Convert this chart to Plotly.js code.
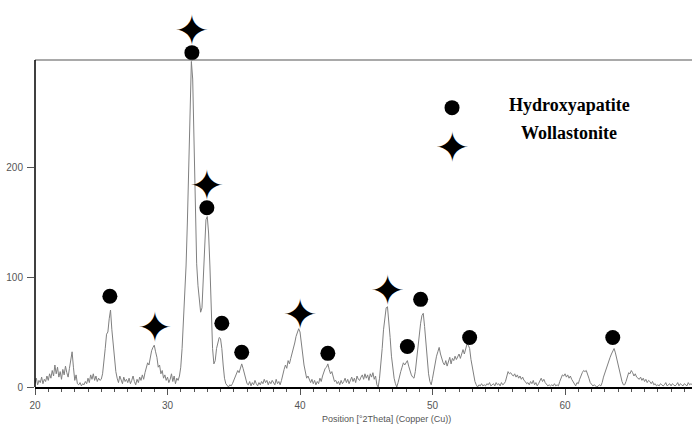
<!DOCTYPE html>
<html>
<head>
<meta charset="utf-8">
<script src="https://cdn.plot.ly/plotly-3.0.1.min.js"></script>
<style>html,body{margin:0;padding:0;background:#fff;}#chart{width:692px;height:428px;}</style>
</head>
<body>
<div id="chart"></div>
<script>
// XRD scan: start angle, step, and intensities
const twoThetaStart = 20.0;
const twoThetaStep = 0.1;
const intensity = [
  3, 8, 2, 6, 4, 9, 3, 7, 5, 10,
  6, 12, 8, 15, 10, 20, 12, 18, 9, 14,
  7, 16, 11, 19, 13, 9, 17, 24, 32, 18,
  6, 11, 3, 2, 4, 1, 3, 2, 5, 3,
  8, 4, 11, 7, 12, 6, 10, 5, 8, 6,
  7, 12, 22, 35, 48, 50, 62, 70, 52, 38,
  24, 14, 8, 4, 10, 6, 3, 9, 5, 7,
  4, 8, 3, 6, 10, 5, 2, 7, 4, 9,
  6, 11, 7, 13, 17, 22, 20, 27, 33, 36,
  38, 32, 27, 18, 20, 12, 15, 8, 11, 6,
  9, 4, 7, 12, 5, 10, 3, 8, 6, 10,
  18, 35, 60, 85, 110, 150, 200, 250, 296, 280,
  220, 155, 112, 92, 78, 68, 72, 100, 128, 152,
  155, 140, 110, 65, 35, 21, 24, 35, 42, 45,
  44, 35, 20, 8, 3, 1, 0, 2, 1, 3,
  6, 10, 12, 15, 13, 18, 21, 17, 12, 6,
  3, 2, 5, 1, 4, 2, 6, 3, 1, 4,
  2, 5, 3, 7, 4, 6, 2, 5, 3, 6,
  4, 2, 7, 3, 5, 2, 6, 12, 16, 20,
  17, 24, 21, 26, 30, 35, 40, 46, 50, 53,
  50, 42, 30, 20, 12, 8, 10, 6, 4, 7,
  3, 6, 2, 5, 3, 8, 5, 10, 14, 17,
  18, 21, 16, 12, 14, 8, 5, 6, 3, 5,
  2, 6, 3, 5, 8, 4, 7, 3, 6, 9,
  5, 8, 4, 10, 7, 6, 9, 11, 7, 12,
  8, 11, 6, 12, 9, 13, 7, 10, 2, 0,
  8, 20, 35, 52, 65, 72, 73, 62, 45, 28,
  15, 8, 3, 0, 4, 10, 14, 18, 22, 20,
  22, 24, 19, 14, 11, 9, 8, 14, 25, 38,
  50, 58, 65, 67, 55, 38, 24, 12, 5, 2,
  8, 15, 22, 28, 32, 36, 30, 25, 22, 20,
  24, 19, 23, 27, 21, 26, 24, 28, 25, 27,
  30, 26, 31, 34, 30, 36, 39, 38, 35, 25,
  18, 10, 5, 2, 0, 2, 1, 3, 1, 2,
  1, 3, 2, 4, 1, 2, 3, 1, 4, 2,
  3, 1, 4, 2, 3, 5, 10, 14, 12, 13,
  11, 10, 12, 9, 11, 8, 10, 7, 9, 6,
  5, 3, 4, 2, 5, 3, 6, 2, 4, 1,
  3, 6, 8, 5, 7, 4, 2, 1, 2, 1,
  2, 1, 3, 1, 2, 1, 5, 9, 11, 10,
  12, 9, 11, 8, 10, 7, 5, 2, 1, 4,
  3, 7, 11, 13, 15, 14, 15, 12, 8, 4,
  2, 1, 2, 1, 0, 1, 2, 1, 4, 9,
  13, 17, 20, 24, 27, 30, 33, 35, 31, 26,
  20, 14, 9, 5, 2, 2, 5, 9, 13, 12,
  15, 13, 10, 12, 9, 8, 7, 9, 6, 8,
  5, 7, 4, 6, 5, 3, 5, 2, 3, 1,
  2, 1, 3, 2, 1, 2, 4, 1, 2, 3,
  1, 3, 2, 1, 2, 4, 1, 3, 2, 1,
  3, 2, 1, 4, 2, 3, 2
];
const twoTheta = intensity.map((_, i) => +(twoThetaStart + i * twoThetaStep).toFixed(2));

// Phase markers (peak labels)
const hapX = [25.65, 31.84, 32.97, 34.1, 35.6, 42.1, 48.1, 49.1, 52.8, 63.6];
const hapY = [82.5, 304, 163, 58, 31.5, 30.6, 36.8, 79.7, 45, 45];
const wolX = [29.04, 31.84, 32.97, 40.0, 46.6];
const wolY = [56, 326, 185, 68, 89];

// Legend
const legendNames = ["Hydroxyapatite", "Wollastonite"];
const legendX = [51.47, 51.5];
const legendY = [254, 219];

const xTickVals = [20, 30, 40, 50, 60];
const yTickVals = [0, 100, 200];
const yTop = 297.3;   // top of the framed area
const starGlyph = '\u2726';
const starSize = 42;
const starShift = -5.3;  // glyph baseline compensation (axis units)

const traces = [
  {x: twoTheta, y: intensity, type: 'scatter', mode: 'lines',
   line: {color: '#808080', width: 1}, hoverinfo: 'skip'},
  {x: hapX, y: hapY, type: 'scatter', mode: 'markers', cliponaxis: false,
   marker: {symbol: 'circle', size: 15, color: '#000'}},
  {x: wolX, y: wolY.map(v => v + starShift), type: 'scatter', mode: 'text', cliponaxis: false,
   text: wolX.map(() => starGlyph), textposition: 'middle center',
   textfont: {family: 'DejaVu Sans', size: starSize, color: '#000'}},
  {x: [legendX[0]], y: [legendY[0]], type: 'scatter', mode: 'markers', cliponaxis: false,
   marker: {symbol: 'circle', size: 15, color: '#000'}},
  {x: [legendX[1]], y: [legendY[1] + starShift], type: 'scatter', mode: 'text', cliponaxis: false,
   text: [starGlyph], textposition: 'middle center',
   textfont: {family: 'DejaVu Sans', size: starSize, color: '#000'}}
];

const layout = {
  width: 692, height: 428,
  margin: {l: 35, r: 0, t: 0, b: 41, pad: 0},
  paper_bgcolor: '#fff', plot_bgcolor: 'rgba(0,0,0,0)',
  showlegend: false,
  xaxis: {
    range: [20, 69.58], showgrid: false, zeroline: false,
    showline: true, linecolor: '#000', linewidth: 1.5,
    ticks: 'outside', ticklen: 6, tickcolor: '#555', tickwidth: 1,
    tickvals: xTickVals, ticktext: xTickVals.map(String),
    ticklabelstandoff: 2,
    tickfont: {family: 'Liberation Sans Narrow, Arial, sans-serif', size: 10, color: '#555'},
    minor: {dtick: 1, ticks: 'outside', ticklen: 3, tickcolor: '#555'}
  },
  yaxis: {
    range: [0, yTop * 387 / 327], showgrid: false, zeroline: false,
    showline: false,
    ticks: 'outside', ticklen: 7, tickcolor: '#555', tickwidth: 1,
    tickvals: yTickVals, ticktext: yTickVals.map(String),
    ticklabelstandoff: 2,
    tickfont: {family: 'Liberation Sans Narrow, Arial, sans-serif', size: 10, color: '#555'}
  },
  shapes: [
    {type: 'line', xref: 'paper', yref: 'y', x0: 0, x1: 1, y0: yTop, y1: yTop,
     line: {color: '#555', width: 1.2}},
    {type: 'line', xref: 'paper', yref: 'y', x0: 0, x1: 0, y0: 0, y1: yTop,
     line: {color: '#000', width: 1.5}}
  ],
  annotations: [
    {xref: 'paper', yref: 'paper', x: 0.535, y: -0.082, yanchor: 'middle', xanchor: 'center',
     text: 'Position [°2Theta] (Copper (Cu))', showarrow: false,
     font: {family: 'Liberation Sans Narrow, Arial, sans-serif', size: 9, color: '#555'}},
    {x: 60.3, y: 256, xref: 'x', yref: 'y', text: '<b>' + legendNames[0] + '</b>', showarrow: false,
     font: {family: 'Liberation Serif, Times New Roman, serif', size: 18, color: '#000'}},
    {x: 60.3, y: 231, xref: 'x', yref: 'y', text: '<b>' + legendNames[1] + '</b>', showarrow: false,
     font: {family: 'Liberation Serif, Times New Roman, serif', size: 18, color: '#000'}}
  ]
};

Plotly.newPlot('chart', traces, layout, {displayModeBar: false, staticPlot: true});
</script>
</body>
</html>
